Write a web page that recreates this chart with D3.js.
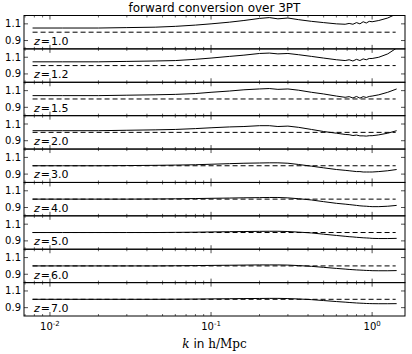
<!DOCTYPE html>
<html>
<head>
<meta charset="utf-8">
<script src="https://cdn.jsdelivr.net/npm/d3@7"></script>
<style>
  body { margin: 0; background: #fff; }
  svg { display: block; }
  text { font-family: "DejaVu Sans", sans-serif; }
</style>
</head>
<body>
<div id="chart"></div>
<script>
// redshift of each panel, top to bottom
var redshifts = ['1.0', '1.2', '1.5', '2.0', '3.0', '4.0', '5.0', '6.0', '7.0'];

// wavenumbers k in h/Mpc
var kVals = [0.0078, 0.012, 0.02, 0.03, 0.045, 0.06, 0.08, 0.1, 0.13, 0.16, 0.2, 0.23, 0.26, 0.3, 0.35,
             0.42, 0.5, 0.6, 0.68, 0.72, 0.76, 0.8, 0.84, 0.88, 0.92, 0.96, 1.0, 1.1, 1.25, 1.42];

// ratio forward conversion / 3PT, one list per panel
var ratioZ10 = [1.05, 1.05, 1.05, 1.055, 1.06, 1.07, 1.085, 1.10, 1.12, 1.14, 1.165, 1.175, 1.16, 1.17, 1.15,
                1.13, 1.115, 1.10, 1.095, 1.105, 1.095, 1.115, 1.10, 1.125, 1.11, 1.13, 1.125, 1.14, 1.17, 1.22];
var ratioZ12 = [1.045, 1.045, 1.045, 1.05, 1.055, 1.06, 1.075, 1.09, 1.11, 1.125, 1.145, 1.15, 1.14, 1.145, 1.13,
                1.11, 1.09, 1.07, 1.06, 1.07, 1.055, 1.075, 1.06, 1.08, 1.07, 1.085, 1.085, 1.10, 1.14, 1.21];
var ratioZ15 = [1.04, 1.04, 1.04, 1.045, 1.05, 1.055, 1.065, 1.08, 1.095, 1.11, 1.12, 1.125, 1.115, 1.12, 1.105,
                1.08, 1.06, 1.035, 1.02, 1.028, 1.012, 1.03, 1.01, 1.028, 1.018, 1.03, 1.035, 1.05, 1.08, 1.12];
var ratioZ20 = [1.02, 1.02, 1.02, 1.025, 1.03, 1.035, 1.045, 1.055, 1.065, 1.07, 1.08, 1.08, 1.07, 1.075, 1.06,
                1.035, 1.01, 0.99, 0.975, 0.972, 0.962, 0.968, 0.958, 0.958, 0.955, 0.96, 0.96, 0.97, 0.99, 1.02];
var ratioZ30 = [1.0, 1.0, 1.0, 1.002, 1.005, 1.008, 1.012, 1.018, 1.025, 1.03, 1.033, 1.035, 1.035, 1.03, 1.015,
                0.995, 0.975, 0.955, 0.945, 0.94, 0.935, 0.93, 0.93, 0.925, 0.925, 0.925, 0.925, 0.93, 0.94, 0.955];
var ratioZ40 = [1.0, 1.0, 1.0, 1.0, 1.002, 1.004, 1.007, 1.01, 1.013, 1.016, 1.018, 1.02, 1.02, 1.015, 1.005,
                0.99, 0.97, 0.95, 0.94, 0.935, 0.93, 0.925, 0.92, 0.917, 0.915, 0.912, 0.91, 0.91, 0.915, 0.925];
var ratioZ50 = [1.0, 1.0, 1.0, 1.0, 1.0, 1.002, 1.004, 1.007, 1.01, 1.012, 1.014, 1.015, 1.015, 1.012, 1.005,
                0.995, 0.98, 0.965, 0.955, 0.95, 0.947, 0.943, 0.94, 0.937, 0.935, 0.933, 0.93, 0.928, 0.928, 0.93];
var ratioZ60 = [1.0, 1.0, 1.0, 1.0, 1.0, 1.002, 1.004, 1.006, 1.008, 1.01, 1.012, 1.012, 1.012, 1.01, 1.004,
                0.995, 0.983, 0.97, 0.962, 0.958, 0.955, 0.952, 0.95, 0.948, 0.946, 0.945, 0.943, 0.942, 0.942, 0.944];
var ratioZ70 = [1.0, 1.0, 1.0, 1.0, 1.0, 1.001, 1.003, 1.005, 1.007, 1.009, 1.01, 1.011, 1.011, 1.009, 1.004,
                0.996, 0.985, 0.973, 0.966, 0.962, 0.959, 0.956, 0.954, 0.952, 0.95, 0.949, 0.948, 0.947, 0.947, 0.948];
var ratios = [ratioZ10, ratioZ12, ratioZ15, ratioZ20, ratioZ30, ratioZ40, ratioZ50, ratioZ60, ratioZ70];

// reference line and y tick values
var refValue = 1.0;
var refRange = [0.0078, 1.4];
var yTicks = [0.9, 1.1];
var xMajor = [0.01, 0.1, 1];
var xMajorExp = ['-2', '-1', '0'];

var width = 412, height = 354;
var margin = { top: 15.5, left: 24, right: 7, bottom: 38 };
var panelH = (height - margin.top - margin.bottom) / redshifts.length;

var svg = d3.select('#chart').append('svg')
    .attr('width', width)
    .attr('height', height);

var x = d3.scaleLog().domain([0.0069, 1.6]).range([margin.left, width - margin.right]);

// minor ticks 2..9 in each decade
var xMinor = [];
[0.001, 0.01, 0.1, 1].forEach(function(d) {
    for (var m = 2; m <= 9; m++) {
        var v = d * m;
        if (v > x.domain()[0] && v < x.domain()[1]) xMinor.push(v);
    }
});

svg.append('text')
    .attr('x', (margin.left + width - margin.right) / 2)
    .attr('y', 12)
    .attr('text-anchor', 'middle')
    .attr('font-size', 12)
    .text('forward conversion over 3PT');

var line = d3.line();

redshifts.forEach(function(z, i) {
    var top = margin.top + i * panelH;
    var y = d3.scaleLinear().domain([0.8, 1.2]).range([top + panelH, top]);
    var g = svg.append('g');

    var clipId = 'clip' + i;
    g.append('clipPath').attr('id', clipId)
        .append('rect')
        .attr('x', margin.left).attr('y', top)
        .attr('width', width - margin.left - margin.right).attr('height', panelH);

    // dashed reference
    g.append('path')
        .attr('d', line(refRange.map(function(k) { return [x(k), y(refValue)]; })))
        .attr('stroke', '#000').attr('stroke-width', 1)
        .attr('stroke-dasharray', '5,3')
        .attr('fill', 'none');

    // ratio curve
    g.append('path')
        .attr('clip-path', 'url(#' + clipId + ')')
        .attr('d', line(kVals.map(function(k, j) { return [x(k), y(ratios[i][j])]; })))
        .attr('stroke', '#000').attr('stroke-width', 1)
        .attr('fill', 'none');

    // x ticks, inward, top and bottom
    var b = top + panelH;
    xMajor.forEach(function(k) {
        g.append('line').attr('x1', x(k)).attr('x2', x(k)).attr('y1', top).attr('y2', top + 4)
            .attr('stroke', '#000').attr('stroke-width', 0.7);
        g.append('line').attr('x1', x(k)).attr('x2', x(k)).attr('y1', b).attr('y2', b - 4)
            .attr('stroke', '#000').attr('stroke-width', 0.7);
    });
    xMinor.forEach(function(k) {
        g.append('line').attr('x1', x(k)).attr('x2', x(k)).attr('y1', top).attr('y2', top + 2)
            .attr('stroke', '#000').attr('stroke-width', 0.6);
        g.append('line').attr('x1', x(k)).attr('x2', x(k)).attr('y1', b).attr('y2', b - 2)
            .attr('stroke', '#000').attr('stroke-width', 0.6);
    });

    // y ticks, inward, left and right
    yTicks.forEach(function(v) {
        g.append('line').attr('x1', margin.left).attr('x2', margin.left + 4)
            .attr('y1', y(v)).attr('y2', y(v)).attr('stroke', '#000').attr('stroke-width', 0.7);
        g.append('line').attr('x1', width - margin.right).attr('x2', width - margin.right - 4)
            .attr('y1', y(v)).attr('y2', y(v)).attr('stroke', '#000').attr('stroke-width', 0.7);
        g.append('text')
            .attr('x', margin.left - 3)
            .attr('y', y(v) + 3.5)
            .attr('text-anchor', 'end')
            .attr('font-size', 10)
            .text(d3.format('.1f')(v));
    });

    // redshift label
    var lab = g.append('text')
        .attr('x', margin.left + 10)
        .attr('y', b - 4)
        .attr('font-family', '"DejaVu Serif", serif')
        .attr('font-size', 11);
    lab.append('tspan').attr('font-style', 'italic').text('z');
    lab.append('tspan').attr('dx', 1).text('=');
    lab.append('tspan').attr('dx', 1).text(z);

    // frame
    g.append('rect')
        .attr('x', margin.left).attr('y', top)
        .attr('width', width - margin.left - margin.right).attr('height', panelH)
        .attr('fill', 'none').attr('stroke', '#000').attr('stroke-width', 1);
});

// x tick labels under last panel
var bottom = margin.top + redshifts.length * panelH;
xMajor.forEach(function(k, i) {
    var t = svg.append('text')
        .attr('x', x(k))
        .attr('y', bottom + 14)
        .attr('text-anchor', 'middle')
        .attr('font-size', 10);
    t.append('tspan').text('10');
    t.append('tspan').attr('font-size', 7).attr('dy', -4).text(xMajorExp[i]);
});

var xl = svg.append('text')
    .attr('x', (margin.left + width - margin.right) / 2)
    .attr('y', bottom + 32)
    .attr('text-anchor', 'middle')
    .attr('font-size', 12);
xl.append('tspan').attr('font-family', '"DejaVu Serif", serif').attr('font-style', 'italic').text('k');
xl.append('tspan').text(' in ');
xl.append('tspan').attr('font-family', '"DejaVu Serif", serif').text('h/Mpc');
</script>
</body>
</html>
